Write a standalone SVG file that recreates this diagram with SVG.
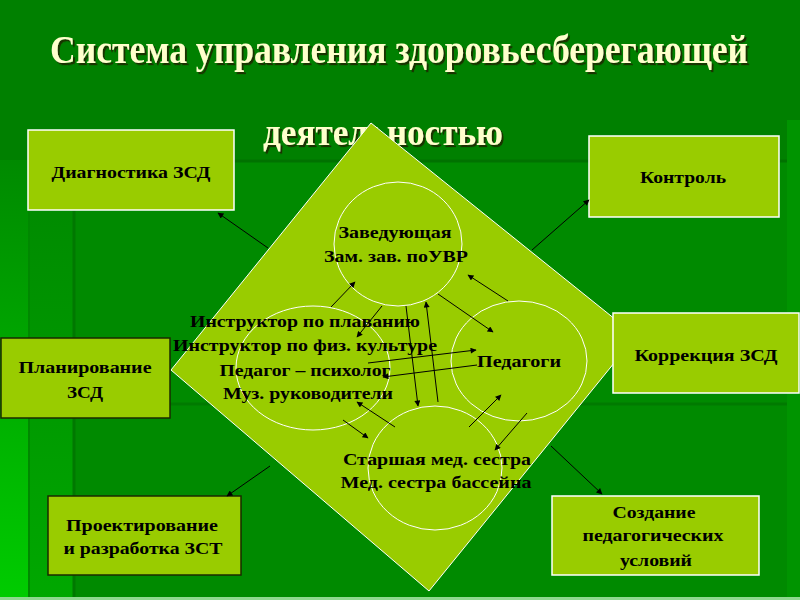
<svg xmlns="http://www.w3.org/2000/svg" width="800" height="600" viewBox="0 0 800 600">
<defs>
<linearGradient id="strip" x1="0" y1="0" x2="0" y2="1">
<stop offset="0" stop-color="#008a00"/>
<stop offset="1" stop-color="#00cc00"/>
</linearGradient>
<linearGradient id="strip2" x1="0" y1="0" x2="0" y2="1">
<stop offset="0" stop-color="#008800"/>
<stop offset="1" stop-color="#00a800"/>
</linearGradient>
<filter id="shadow" x="-10%" y="-60%" width="120%" height="220%">
<feDropShadow dx="2" dy="2" stdDeviation="0.6" flood-color="#202000" flood-opacity="0.8"/>
</filter>
<marker id="ah" viewBox="0 0 10 10" refX="9" refY="5" markerWidth="7" markerHeight="6" markerUnits="userSpaceOnUse" orient="auto">
<path d="M0,0 L10,5 L0,10 Z" fill="#000"/>
</marker>
</defs>
<style>
.title{font-family:"Liberation Serif","Times New Roman",serif;font-weight:bold;fill:#ffffcc;filter:url(#shadow)}
.box{fill:#99cc00;stroke-width:1.5}
.wb{stroke:#ffffff}
.bb{stroke:#1a2a00}
.t{font-family:"Liberation Serif","Times New Roman",serif;font-weight:bold;font-size:17px;fill:#000;text-anchor:middle}
.ct{font-family:"Liberation Serif","Times New Roman",serif;font-weight:bold;font-size:17px;fill:#000;text-anchor:middle}
.circ{fill:none;stroke:#ffffff;stroke-width:1}
.arr{stroke:#000;stroke-width:1;fill:none;marker-end:url(#ah)}
</style>

<g id="background">
<rect x="0" y="0" width="800" height="600" fill="#008a00"/>
<rect x="0" y="0" width="800" height="160" fill="#008000"/>
<rect x="0" y="160" width="29" height="440" fill="url(#strip)"/>
<rect x="29" y="160" width="45" height="440" fill="url(#strip2)"/>
<rect x="787" y="120" width="13" height="480" fill="#009400"/>
<line x1="74" y1="161" x2="787" y2="161" stroke="#007200" stroke-width="3"/>
<line x1="74" y1="161" x2="74" y2="600" stroke="#007800" stroke-width="3"/>
<line x1="29" y1="161" x2="29" y2="600" stroke="#008800" stroke-width="2"/>
<line x1="74" y1="404" x2="787" y2="404" stroke="#007a00" stroke-width="3"/>
<rect x="0" y="597" width="800" height="3" fill="#8fd88f"/>
</g>

<g id="title">
<text class="title" x="399" y="63" font-size="36" text-anchor="middle" textLength="698" lengthAdjust="spacingAndGlyphs" transform="translate(0,63) scale(1,1.1) translate(0,-63)">Система управления здоровьесберегающей</text>
<text class="title" x="383" y="145" font-size="36" text-anchor="middle" textLength="240" lengthAdjust="spacingAndGlyphs" transform="translate(0,145) scale(1,1.05) translate(0,-145)">деятельностью</text>
</g>

<g id="diamond">
<polygon points="371,123 636,336 429,591 171,370" fill="#99cc00" stroke="#ffffff" stroke-width="1"/>
</g>

<g id="node-head">
<ellipse class="circ" cx="398" cy="244" rx="64" ry="62"/>
<text class="ct" x="395" y="238" textLength="113" lengthAdjust="spacingAndGlyphs">Заведующая</text>
<text class="ct" x="396" y="262" textLength="144" lengthAdjust="spacingAndGlyphs">Зам. зав. поУВР</text>
</g>

<g id="node-instructors">
<ellipse class="circ" cx="313" cy="368" rx="77" ry="62"/>
<text class="ct" x="305" y="327" textLength="230" lengthAdjust="spacingAndGlyphs">Инструктор по плаванию</text>
<text class="ct" x="305" y="351" textLength="264" lengthAdjust="spacingAndGlyphs">Инструктор по физ. культуре</text>
<text class="ct" x="305" y="376" textLength="171" lengthAdjust="spacingAndGlyphs">Педагог – психолог</text>
<text class="ct" x="308" y="399" textLength="170" lengthAdjust="spacingAndGlyphs">Муз. руководители</text>
</g>

<g id="node-teachers">
<ellipse class="circ" cx="519" cy="361" rx="68" ry="60"/>
<text class="ct" x="519" y="367" textLength="84" lengthAdjust="spacingAndGlyphs">Педагоги</text>
</g>

<g id="node-nurses">
<ellipse class="circ" cx="435" cy="468" rx="67" ry="62"/>
<text class="ct" x="437" y="465" textLength="188" lengthAdjust="spacingAndGlyphs">Старшая мед. сестра</text>
<text class="ct" x="436" y="488" textLength="191" lengthAdjust="spacingAndGlyphs">Мед. сестра бассейна</text>
</g>

<g id="node-diagnostics">
<rect class="box wb" x="28" y="130" width="206" height="80"/>
<text class="t" x="131" y="178" textLength="159" lengthAdjust="spacingAndGlyphs">Диагностика ЗСД</text>
</g>

<g id="node-control">
<rect class="box wb" x="589" y="136" width="190" height="81"/>
<text class="t" x="683" y="183" textLength="86" lengthAdjust="spacingAndGlyphs">Контроль</text>
</g>

<g id="node-correction">
<rect class="box wb" x="613" y="313" width="186" height="80"/>
<text class="t" x="706" y="361" textLength="143" lengthAdjust="spacingAndGlyphs">Коррекция ЗСД</text>
</g>

<g id="node-planning">
<rect class="box bb" x="1" y="338" width="169" height="80"/>
<text class="t" x="85" y="373" textLength="133" lengthAdjust="spacingAndGlyphs">Планирование</text>
<text class="t" x="85" y="398" textLength="36" lengthAdjust="spacingAndGlyphs">ЗСД</text>
</g>

<g id="node-design">
<rect class="box bb" x="48" y="496" width="193" height="79"/>
<text class="t" x="142" y="531" textLength="152" lengthAdjust="spacingAndGlyphs">Проектирование</text>
<text class="t" x="143" y="554" textLength="159" lengthAdjust="spacingAndGlyphs">и разработка ЗСТ</text>
</g>

<g id="node-conditions">
<rect class="box wb" x="552" y="496" width="207" height="79"/>
<text class="t" x="654" y="518" textLength="83" lengthAdjust="spacingAndGlyphs">Создание</text>
<text class="t" x="653" y="541" textLength="141" lengthAdjust="spacingAndGlyphs">педагогических</text>
<text class="t" x="656" y="566" textLength="72" lengthAdjust="spacingAndGlyphs">условий</text>
</g>

<g id="connectors">
<line class="arr" x1="268" y1="248" x2="218" y2="213"/>
<line class="arr" x1="532" y1="250" x2="589" y2="200"/>
<line class="arr" x1="270" y1="466" x2="227" y2="496"/>
<line class="arr" x1="551" y1="446" x2="602" y2="494"/>
<line class="arr" x1="331" y1="307" x2="355" y2="282"/>
<line class="arr" x1="382" y1="306" x2="357" y2="337"/>
<line class="arr" x1="406" y1="306" x2="418" y2="406"/>
<line class="arr" x1="438" y1="402" x2="426" y2="302"/>
<line class="arr" x1="438" y1="294" x2="493" y2="332"/>
<line class="arr" x1="508" y1="301" x2="468" y2="275"/>
<line class="arr" x1="368" y1="363" x2="476" y2="350"/>
<line class="arr" x1="477" y1="365" x2="383" y2="377"/>
<line class="arr" x1="343" y1="420" x2="368" y2="438"/>
<line class="arr" x1="395" y1="427" x2="357" y2="402"/>
<line class="arr" x1="469" y1="427" x2="501" y2="395"/>
<line class="arr" x1="527" y1="413" x2="495" y2="450"/>
</g>
</svg>
